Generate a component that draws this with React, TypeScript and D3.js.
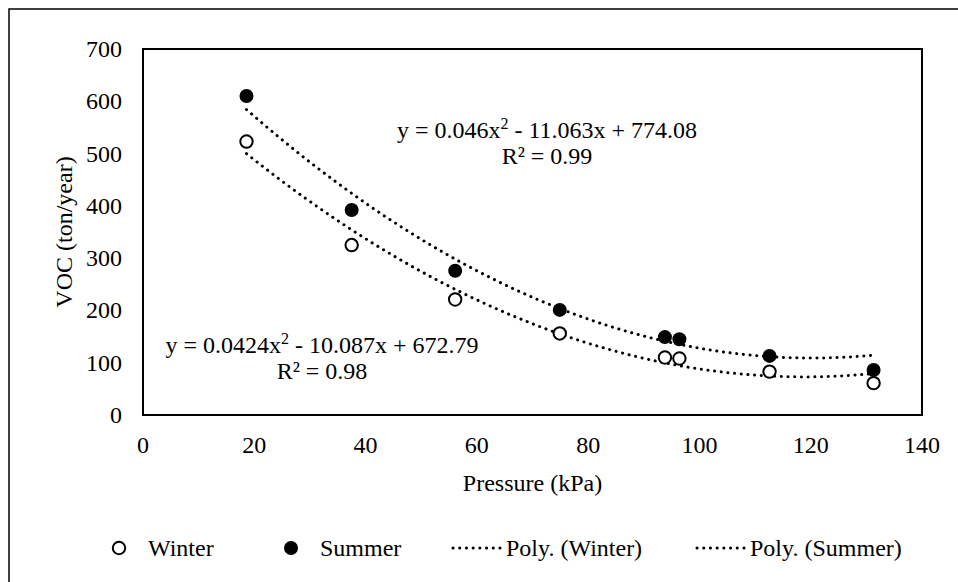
import React from "react";
import * as d3 from "d3";

// Measured pressure (kPa) for each tank case
const pressure = [18.6, 37.5, 56.1, 74.9, 93.8, 96.4, 112.6, 131.3];
// VOC emissions (ton/year)
const winterVoc = [523, 325, 221, 156, 110, 108, 83, 61];
const summerVoc = [610, 392, 276, 201, 149, 145, 113, 86];

// Second-order polynomial trendline coefficients [a, b, c] for y = ax² + bx + c
const winterFit = [0.0424, -10.087, 672.79];
const summerFit = [0.046, -11.063, 774.08];
const winterR2 = "0.98";
const summerR2 = "0.99";

const xTicks = [0, 20, 40, 60, 80, 100, 120, 140];
const yTicks = [0, 100, 200, 300, 400, 500, 600, 700];

const legendItems = ["Winter", "Summer", "Poly. (Winter)", "Poly. (Summer)"];

const W = 958;
const H = 582;
const plot = { left: 143, right: 922, top: 49, bottom: 415 };
const FONT = "Liberation Serif, Times New Roman, serif";

export default function App() {
  const x = d3.scaleLinear().domain([0, 140]).range([plot.left, plot.right]);
  const y = d3.scaleLinear().domain([0, 700]).range([plot.bottom, plot.top]);

  const poly = (c: number[]) => (v: number) => c[0] * v * v + c[1] * v + c[2];
  const xMin = d3.min(pressure) as number;
  const xMax = d3.max(pressure) as number;
  const samples = d3.range(0, 101).map((i) => xMin + ((xMax - xMin) * i) / 100);
  const trendPath = (c: number[]) =>
    d3
      .line<number>()
      .x((v) => x(v))
      .y((v) => y(poly(c)(v)))(samples) || "";

  const dotted = {
    fill: "none",
    stroke: "#000",
    strokeWidth: 3,
    strokeLinecap: "round" as const,
    strokeDasharray: "0.1 6.6",
  };

  const eq = (c: number[], r2: string, cx: number, by: number) => {
    const a = String(c[0]);
    const b = Math.abs(c[1]).toFixed(3);
    const k = c[2].toFixed(2);
    return (
      <g fontFamily={FONT} fontSize={24} fill="#000" textAnchor="middle">
        <text x={cx} y={by}>
          {`y = ${a}x`}
          <tspan fontSize={16} dy={-9}>2</tspan>
          <tspan dy={9}>{` - ${b}x + ${k}`}</tspan>
        </text>
        <text x={cx} y={by + 26}>{`R² = ${r2}`}</text>
      </g>
    );
  };

  // Legend layout
  const legendY = 548;
  const sampleW = 52;
  const entryStarts = [93, 265, 451, 695];

  return (
    <svg
      width={W}
      height={H}
      style={{ position: "fixed", left: 0, top: 0, background: "#fff" }}
    >
      <rect x={0} y={0} width={W} height={H} fill="#fff" />
      {/* chart area border */}
      <rect x={9} y={9} width={1000} height={600} fill="none" stroke="#000" strokeWidth={1.5} />

      {/* plot frame */}
      <rect
        x={plot.left}
        y={plot.top}
        width={plot.right - plot.left}
        height={plot.bottom - plot.top}
        fill="none"
        stroke="#000"
        strokeWidth={2}
      />

      {/* axis tick labels and titles */}
      <g fontFamily={FONT} fontSize={24} fill="#000">
        {yTicks.map((t) => (
          <text key={t} x={plot.left - 21} y={y(t) + 8} textAnchor="end">
            {t}
          </text>
        ))}
        {xTicks.map((t) => (
          <text key={t} x={x(t)} y={453} textAnchor="middle">
            {t}
          </text>
        ))}
        <text x={(plot.left + plot.right) / 2} y={491} textAnchor="middle">
          Pressure (kPa)
        </text>
        <text
          transform={`translate(${72},${(plot.top + plot.bottom) / 2}) rotate(-90)`}
          textAnchor="middle"
        >
          VOC (ton/year)
        </text>
      </g>

      {/* trendlines */}
      <path d={trendPath(winterFit)} {...dotted} />
      <path d={trendPath(summerFit)} {...dotted} />

      {/* data markers */}
      {pressure.map((p, i) => (
        <circle key={`s${i}`} cx={x(p)} cy={y(summerVoc[i])} r={7} fill="#000" />
      ))}
      {pressure.map((p, i) => (
        <circle
          key={`w${i}`}
          cx={x(p)}
          cy={y(winterVoc[i])}
          r={6.2}
          fill="#fff"
          stroke="#000"
          strokeWidth={2}
        />
      ))}

      {/* trendline equations */}
      {eq(summerFit, summerR2, 547, 138)}
      {eq(winterFit, winterR2, 322, 353)}

      {/* legend */}
      <g fontFamily={FONT} fontSize={24} fill="#000">
        {legendItems.map((name, i) => {
          const sx = entryStarts[i];
          const cx = sx + sampleW / 2;
          let symbol;
          if (i === 0)
            symbol = <circle cx={cx} cy={legendY} r={6.2} fill="#fff" stroke="#000" strokeWidth={2} />;
          else if (i === 1) symbol = <circle cx={cx} cy={legendY} r={7} fill="#000" />;
          else
            symbol = (
              <line x1={sx + 2} x2={sx + sampleW} y1={legendY} y2={legendY} {...dotted} />
            );
          return (
            <g key={name}>
              {symbol}
              <text x={sx + sampleW + 3} y={legendY + 8}>
                {name}
              </text>
            </g>
          );
        })}
      </g>
    </svg>
  );
}
